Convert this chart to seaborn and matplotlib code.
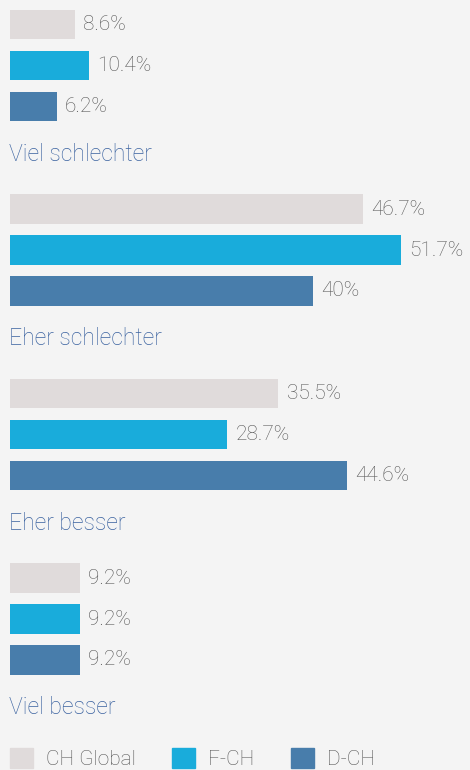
import pandas as pd
import matplotlib.pyplot as plt
import seaborn as sns

# Daten
kategorien = ['Viel schlechter', 'Eher schlechter', 'Eher besser', 'Viel besser']
serien = ['CH Global', 'F-CH', 'D-CH']
ch_global = [8.6, 46.7, 35.5, 9.2]
f_ch = [10.4, 51.7, 28.7, 9.2]
d_ch = [6.2, 40, 44.6, 9.2]
farben = ['#e0dbdb', '#19acdb', '#487dab']

df = pd.DataFrame({
    'kategorie': kategorien * 3,
    'serie': [s for s in serien for _ in kategorien],
    'wert': ch_global + f_ch + d_ch,
})

sns.set_style('white')
plt.rcParams['font.family'] = ['Roboto', 'DejaVu Sans']

fig = plt.figure(figsize=(4.7, 7.7), dpi=100)
fig.patch.set_facecolor('#f4f4f4')
ax = fig.add_axes([0, 0, 1, 1])
ax.set_facecolor('#f4f4f4')

sns.barplot(data=df, y='kategorie', x='wert', hue='serie', orient='h',
            palette=farben, width=0.666, gap=0.27, order=kategorien,
            hue_order=serien, saturation=1, legend=False, linewidth=0, ax=ax)

# Werte neben den Balken
for cont in ax.containers:
    ax.bar_label(cont, labels=[f'{v:g}%' for v in cont.datavalues], padding=6,
                 fontsize=15, color='#555555', fontweight='light')

# Kategorienamen unter jeder Gruppe
for i, k in enumerate(kategorien):
    ax.text(-0.1, i + 0.515, k, ha='left', va='baseline', fontsize=16.6,
            color='#3a62a0', fontweight='light')

ax.set_xlim(-10 / 7.563, 460 / 7.563)
ax.set_ylim(704.5 / 184.5, -65.5 / 184.5)
ax.axis('off')

# Legende
handles = [plt.Rectangle((0, 0), 1, 1, color=c) for c in farben]
leg = fig.legend(handles, serien, loc='upper left', ncol=3, frameon=False,
                 bbox_to_anchor=(10 / 470, 1 - 748 / 770), borderaxespad=0,
                 borderpad=0, fontsize=15, handlelength=1.1, handleheight=1.1,
                 handletextpad=0.62, columnspacing=1.75)
for t in leg.get_texts():
    t.set_color('#555555')
    t.set_fontweight('light')

plt.savefig('out.png', dpi=100, facecolor=fig.get_facecolor())
